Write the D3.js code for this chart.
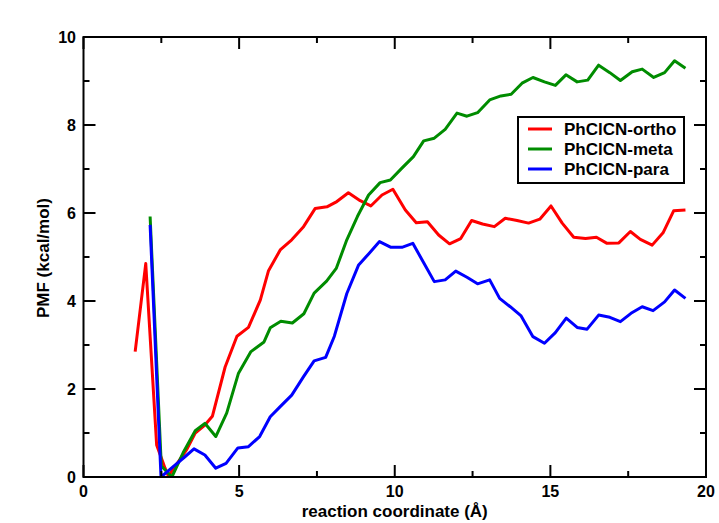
<!DOCTYPE html>
<html><head><meta charset="utf-8">
<script src="https://cdn.jsdelivr.net/npm/d3@7"></script>
<style>body{margin:0;background:#fff}svg{display:block}text{font-family:"Liberation Sans",Arial,sans-serif;font-weight:bold;fill:#000}</style>
</head><body><svg id="c" width="719" height="523"></svg>
<script>
const seriesNames = ["PhClCN-ortho","PhClCN-meta","PhClCN-para"];
const seriesColors = ["#ff0000","#008c00","#0000ff"];

const orthoX = [1.66,2.0,2.35,2.62,2.73,3.05,3.32,3.59,3.9,4.14,4.55,4.93,5.3,5.68,5.94,6.32,6.69,7.07,7.44,7.82,8.14,8.51,8.89,9.23,9.59,9.94,10.34,10.69,11.05,11.41,11.76,12.12,12.47,12.82,13.2,13.55,13.93,14.3,14.66,15.02,15.38,15.75,16.13,16.48,16.82,17.2,17.57,17.89,18.27,18.62,18.96,19.34];
const orthoY = [2.85,4.85,0.73,0.2,0.02,0.35,0.63,1.0,1.18,1.38,2.5,3.2,3.4,4.02,4.68,5.16,5.39,5.69,6.1,6.14,6.26,6.46,6.28,6.16,6.41,6.54,6.07,5.78,5.8,5.5,5.3,5.42,5.83,5.75,5.69,5.88,5.83,5.77,5.86,6.16,5.77,5.45,5.42,5.45,5.31,5.32,5.58,5.4,5.27,5.55,6.05,6.07];

const metaX = [2.14,2.5,2.84,3.2,3.59,3.9,4.25,4.6,4.98,5.38,5.8,6.0,6.34,6.71,7.08,7.41,7.81,8.12,8.46,8.8,9.16,9.53,9.86,10.23,10.6,10.93,11.27,11.62,12.0,12.32,12.66,13.05,13.41,13.74,14.09,14.44,14.81,15.16,15.5,15.86,16.2,16.55,16.91,17.25,17.63,17.95,18.32,18.67,18.99,19.34];
const metaY = [5.92,0.25,0.0,0.55,1.05,1.22,0.92,1.45,2.36,2.85,3.07,3.39,3.54,3.5,3.71,4.18,4.45,4.74,5.39,5.92,6.41,6.69,6.75,7.02,7.28,7.64,7.7,7.9,8.27,8.2,8.28,8.57,8.66,8.7,8.95,9.08,8.98,8.9,9.14,8.98,9.02,9.36,9.19,9.01,9.21,9.27,9.08,9.19,9.46,9.29];

const paraX = [2.14,2.49,2.94,3.26,3.55,3.9,4.25,4.58,4.96,5.3,5.66,6.0,6.32,6.69,7.07,7.41,7.78,8.06,8.46,8.84,9.16,9.51,9.88,10.23,10.58,10.93,11.27,11.62,11.96,12.32,12.66,13.05,13.37,13.71,14.06,14.44,14.81,15.16,15.51,15.86,16.18,16.55,16.91,17.25,17.59,17.95,18.3,18.67,18.99,19.34];
const paraY = [5.73,0.0,0.27,0.46,0.64,0.5,0.2,0.31,0.66,0.69,0.92,1.37,1.6,1.86,2.28,2.64,2.72,3.2,4.17,4.82,5.07,5.35,5.22,5.22,5.31,4.87,4.44,4.48,4.68,4.54,4.39,4.48,4.06,3.87,3.66,3.19,3.04,3.28,3.61,3.4,3.36,3.68,3.63,3.53,3.72,3.87,3.78,3.98,4.25,4.06];

const xMajorTicks = [0,5,10,15,20];
const xMinorTicks = [2.5,7.5,12.5,17.5];
const yMajorTicks = [0,2,4,6,8,10];
const yMinorTicks = [1,3,5,7,9];

const xsArr = [orthoX, metaX, paraX];
const ysArr = [orthoY, metaY, paraY];

const svg = d3.select("#c");
const L = 83.5, R = 706, T = 37, B = 477;
const x = d3.scaleLinear().domain([0,20]).range([L,R]);
const y = d3.scaleLinear().domain([0,10]).range([B,T]);

svg.append("clipPath").attr("id","clip").append("rect").attr("x",L).attr("y",T).attr("width",R-L).attr("height",B-T);

const line = d3.line().x(d=>x(d[0])).y(d=>y(d[1]));
const g = svg.append("g").attr("clip-path","url(#clip)");
xsArr.forEach((xs,i)=>{
  const pts = xs.map((v,j)=>[v, ysArr[i][j]]);
  g.append("path").datum(pts).attr("d",line).attr("fill","none")
   .attr("stroke",seriesColors[i]).attr("stroke-width",3).attr("stroke-linejoin","round");
});

const tk = svg.append("g").attr("stroke","#000").attr("stroke-width",2);
xMajorTicks.forEach(v=>{
  tk.append("line").attr("x1",x(v)).attr("x2",x(v)).attr("y1",B).attr("y2",B-12);
  tk.append("line").attr("x1",x(v)).attr("x2",x(v)).attr("y1",T).attr("y2",T+12);
});
xMinorTicks.forEach(v=>{
  tk.append("line").attr("x1",x(v)).attr("x2",x(v)).attr("y1",B).attr("y2",B-6);
  tk.append("line").attr("x1",x(v)).attr("x2",x(v)).attr("y1",T).attr("y2",T+6);
});
yMajorTicks.forEach(v=>{
  tk.append("line").attr("x1",L).attr("x2",L+12).attr("y1",y(v)).attr("y2",y(v));
  tk.append("line").attr("x1",R).attr("x2",R-12).attr("y1",y(v)).attr("y2",y(v));
});
yMinorTicks.forEach(v=>{
  tk.append("line").attr("x1",L).attr("x2",L+6).attr("y1",y(v)).attr("y2",y(v));
  tk.append("line").attr("x1",R).attr("x2",R-6).attr("y1",y(v)).attr("y2",y(v));
});

svg.append("rect").attr("x",L).attr("y",T).attr("width",R-L).attr("height",B-T)
  .attr("fill","none").attr("stroke","#000").attr("stroke-width",2);

xMajorTicks.forEach(v=>{
  svg.append("text").attr("x",x(v)).attr("y",497).attr("text-anchor","middle")
    .style("font-size","16px").text(v);
});
yMajorTicks.forEach(v=>{
  svg.append("text").attr("x",76).attr("y",y(v)+6).attr("text-anchor","end")
    .style("font-size","16px").text(v);
});

svg.append("text").attr("x",(L+R)/2).attr("y",517).attr("text-anchor","middle")
  .style("font-size","17px").text("reaction coordinate (Å)");
svg.append("text").attr("transform","translate(49,258) rotate(-90)").attr("text-anchor","middle")
  .style("font-size","17px").text("PMF (kcal/mol)");

const lg = svg.append("g");
lg.append("rect").attr("x",518).attr("y",117).attr("width",166).attr("height",66)
  .attr("fill","#fff").attr("stroke","#000").attr("stroke-width",2);
seriesNames.forEach((n,i)=>{
  const yy = 129 + i*20;
  lg.append("line").attr("x1",528).attr("x2",552).attr("y1",yy).attr("y2",yy)
    .attr("stroke",seriesColors[i]).attr("stroke-width",3);
  lg.append("text").attr("x",564).attr("y",yy+6).style("font-size","17px").text(n);
});
</script></body></html>
